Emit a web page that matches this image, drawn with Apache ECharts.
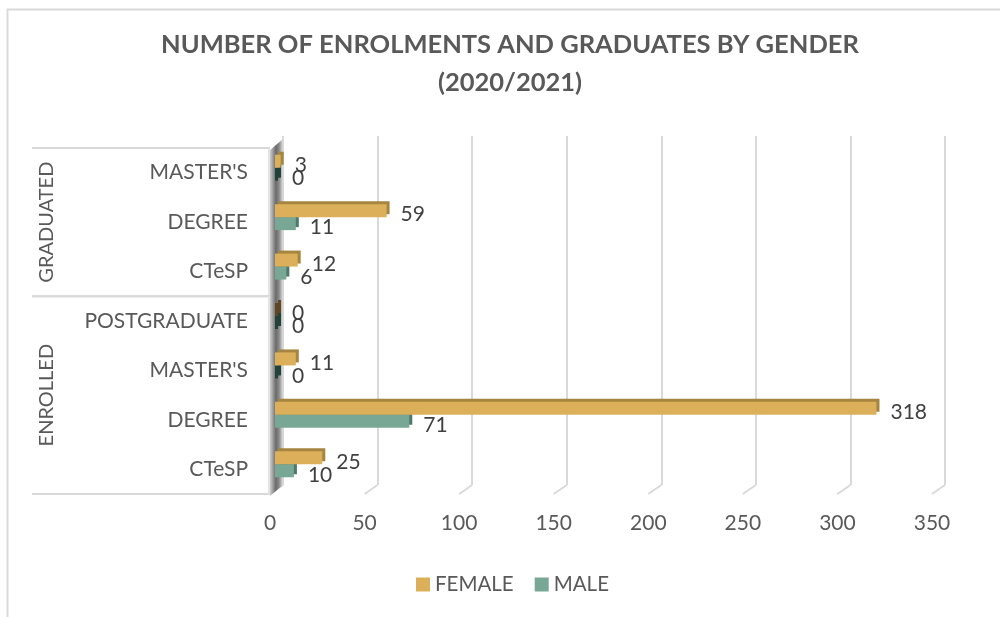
<!DOCTYPE html>
<html>
<head>
<meta charset="utf-8">
<script src="https://cdn.jsdelivr.net/npm/echarts@6/dist/echarts.min.js"></script>
<style>
html,body{margin:0;padding:0;background:#fff;}
#chart{width:1000px;height:617px;}
</style>
</head>
<body>
<div id="chart"></div>
<script>
// ---- data ----
const categories = ["MASTER'S", "DEGREE", "CTeSP", "POSTGRADUATE", "MASTER'S", "DEGREE", "CTeSP"];
const groupNames = ["GRADUATED", "ENROLLED"];
const groupSizes = [3, 4];
const femaleValues = [3, 59, 12, 0, 11, 318, 25];
const maleValues = [0, 11, 6, 0, 0, 71, 10];
const xTickValues = [0, 50, 100, 150, 200, 250, 300, 350];
const seriesNames = ["FEMALE", "MALE"];
const titleText = "NUMBER OF ENROLMENTS AND GRADUATES BY GENDER\n(2020/2021)";

// ---- style ----
const FONT = "Lato";
const TXT = "#595959";
const DX = 13, DY = -9;   // depth offset of the back wall
const femaleColor = "#dcb05a", femaleSide = "#a5853f", femaleZero = "#5e4722";
const maleColor = "#78a796", maleSide = "#4e7a6b", maleZero = "#21433a";

const chart = echarts.init(document.getElementById('chart'), null, {renderer: 'canvas'});

function barData(vals, zeroColor) {
  return vals.map(v => v === 0 ? {value: v, itemStyle: {color: zeroColor, shadowColor: zeroColor}} : v);
}

const groupBounds = [0];
groupSizes.forEach(s => groupBounds.push(groupBounds[groupBounds.length - 1] + s));

const option = {
  backgroundColor: '#ffffff',
  textStyle: {fontFamily: FONT},
  title: {
    text: titleText,
    left: 505,
    textAlign: 'center',
    top: 21,
    textStyle: {fontFamily: FONT, fontWeight: 'bold', fontSize: 25.5, color: TXT, lineHeight: 38}
  },
  legend: {
    data: seriesNames,
    top: 569,
    left: 411,
    itemWidth: 14,
    itemHeight: 14,
    itemGap: 21,
    icon: 'rect',
    textStyle: {fontFamily: FONT, fontSize: 20.5, color: TXT}
  },
  grid: [
    {left: 270, right: 68, top: 148, bottom: 123},
    {left: 270 + DX, right: 68 - DX, top: 136, bottom: 123 - DY},
    {left: 275, right: 63, top: 143, bottom: 128}
  ],
  xAxis: [
    {gridIndex: 0, type: 'value', min: 0, max: 350, interval: 50,
     axisLine: {show: false}, axisTick: {show: false}, splitLine: {show: false},
     axisLabel: {fontFamily: FONT, fontSize: 21, color: TXT, margin: 19,
                 formatter: v => xTickValues.indexOf(v) >= 0 ? String(v) : ''}},
    {gridIndex: 1, type: 'value', min: 0, max: 350, interval: 50,
     axisLine: {show: false}, axisTick: {show: false}, axisLabel: {show: false},
     splitLine: {show: true, lineStyle: {color: '#d9d9d9', width: 2}}},
    {gridIndex: 2, type: 'value', min: 0, max: 350, interval: 50, show: false}
  ],
  yAxis: [
    {gridIndex: 0, type: 'category', data: categories, inverse: true,
     axisLine: {show: false}, axisTick: {show: false},
     axisLabel: {fontFamily: FONT, fontSize: 21, color: TXT, margin: 22}},
    {gridIndex: 1, type: 'category', data: categories, inverse: true, show: false},
    {gridIndex: 2, type: 'category', data: categories, inverse: true, show: false}
  ],
  series: [
    // floor lines from front ticks to back wall
    {type: 'custom', name: 'floor', xAxisIndex: 0, yAxisIndex: 0, silent: true, z: 1,
     data: xTickValues.map(v => [v, 0]),
     renderItem: function (params, api) {
       const p = api.coord([api.value(0), 0]);
       const cs = params.coordSys;
       const yb = cs.y + cs.height;
       return {type: 'line', shape: {x1: p[0], y1: yb, x2: p[0] + DX, y2: yb + DY},
               style: {stroke: '#d9d9d9', lineWidth: 2}};
     }},
    // left side wall (3D)
    {type: 'custom', name: 'wall', xAxisIndex: 0, yAxisIndex: 0, silent: true, z: 1,
     data: [[0, 0]],
     renderItem: function (params, api) {
       const cs = params.coordSys;
       const x0 = api.coord([0, 0])[0];
       const yt = cs.y, yb = cs.y + cs.height;
       return {type: 'polygon',
               shape: {points: [[x0, yt + 2], [x0 + DX, yt + DY], [x0 + DX, yb + DY], [x0, yb + 2]]},
               style: {fill: new echarts.graphic.LinearGradient(0, 0, 1, 0, [
                 {offset: 0, color: '#d0d0d0'}, {offset: 0.45, color: '#6a6a6a'},
                 {offset: 0.7, color: '#8a8a8a'}, {offset: 1, color: '#e0e0e0'}])}};
     }},
    // multi-level label box + group names
    {type: 'custom', name: 'groups', xAxisIndex: 0, yAxisIndex: 0, silent: true, z: 2,
     data: groupNames.map((n, i) => [0, i]),
     renderItem: function (params, api) {
       const i = params.dataIndex;
       const cs = params.coordSys;
       const band = api.size([0, 1])[1];
       const x0 = cs.x;
       const yTop = api.coord([0, groupBounds[i]])[1] - band / 2;
       const yBot = api.coord([0, groupBounds[i + 1] - 1])[1] + band / 2;
       const children = [
         {type: 'line', shape: {x1: 32, y1: yTop, x2: x0, y2: yTop}, style: {stroke: '#d9d9d9', lineWidth: 2}},
         {type: 'line', shape: {x1: 32, y1: yBot, x2: x0, y2: yBot}, style: {stroke: '#d9d9d9', lineWidth: 2}},
         {type: 'line', shape: {x1: x0 - 1, y1: yTop, x2: x0 - 1, y2: yBot}, style: {stroke: '#e3e3e3', lineWidth: 2}},
         {type: 'text', x: 47, y: (yTop + yBot) / 2, rotation: Math.PI / 2,
          style: {text: groupNames[i], fontFamily: FONT, fontSize: 20, fill: TXT,
                  align: 'center', verticalAlign: 'middle'}}
       ];
       return {type: 'group', children: children};
     }},
    {type: 'bar', name: seriesNames[0], xAxisIndex: 2, yAxisIndex: 2, z: 4,
     data: barData(femaleValues, femaleZero),
     barWidth: 13, barGap: '0%', barMinHeight: 3,
     itemStyle: {color: femaleColor, shadowColor: femaleSide, shadowBlur: 0, shadowOffsetX: 3, shadowOffsetY: -3},
     label: {show: true, position: 'right', distance: 14, offset: [0, 4],
             fontFamily: FONT, fontSize: 21, color: '#404040'}},
    {type: 'bar', name: seriesNames[1], xAxisIndex: 2, yAxisIndex: 2, z: 3,
     data: barData(maleValues, maleZero),
     barWidth: 13, barGap: '0%', barMinHeight: 3,
     itemStyle: {color: maleColor, shadowColor: maleSide, shadowBlur: 0, shadowOffsetX: 3, shadowOffsetY: -3},
     label: {show: true, position: 'right', distance: 14, offset: [0, 4],
             fontFamily: FONT, fontSize: 21, color: '#404040'}}
  ],
  graphic: [
    {type: 'rect', left: 5, top: 7, silent: true, z: 0,
     shape: {x: 0, y: 0, width: 1010, height: 630},
     style: {fill: 'none', stroke: '#d9d9d9', lineWidth: 2}}
  ],
  animation: false
};
chart.setOption(option);
</script>
</body>
</html>
